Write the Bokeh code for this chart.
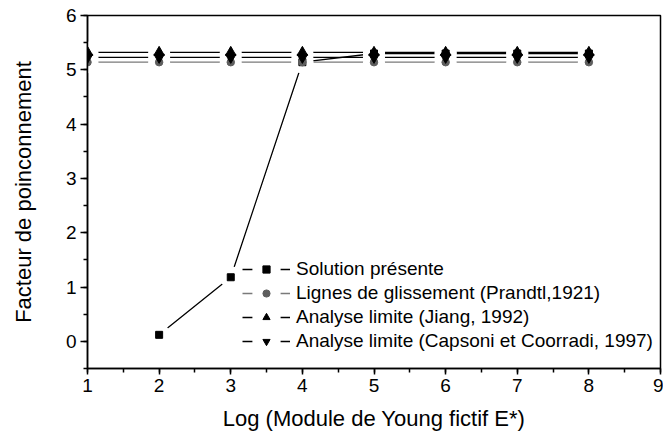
import numpy as np
from bokeh.plotting import figure
from bokeh.models import Range1d, SingleIntervalTicker, Legend, LegendItem
from bokeh.embed import file_html
from bokeh.resources import INLINE

# ---- data ----
x_solution = [2, 3, 4, 5, 6, 7, 8]
y_solution = [0.12, 1.18, 5.14, 5.30, 5.30, 5.30, 5.30]

x_ref = [0, 1, 2, 3, 4, 5, 6, 7, 8]
y_prandtl = [5.14, 5.14, 5.14, 5.14, 5.14, 5.14, 5.14, 5.14, 5.14]
y_jiang = [5.32, 5.32, 5.32, 5.32, 5.32, 5.32, 5.32, 5.32, 5.32]
y_capsoni = [5.23, 5.23, 5.23, 5.23, 5.23, 5.23, 5.23, 5.23, 5.23]

labels = [
    "Solution présente",
    "Lignes de glissement (Prandtl,1921)",
    "Analyse limite (Jiang, 1992)",
    "Analyse limite (Capsoni et Coorradi, 1997)",
]
x_label = "Log (Module de Young fictif E*)"
y_label = "Facteur de poinconnement"

FONT = "Liberation Sans"

p = figure(width=663, height=438, output_backend="svg", toolbar_location=None,
           x_range=Range1d(1, 9), y_range=Range1d(-0.5, 6),
           min_border_left=87, min_border_right=3, min_border_top=15, min_border_bottom=70)
p.grid.visible = False
p.background_fill_color = "white"
p.border_fill_color = "white"
p.outline_line_color = "black"
p.outline_line_width = 1.5

for ax in (p.xaxis[0], p.yaxis[0]):
    ax.ticker = SingleIntervalTicker(interval=1, num_minor_ticks=2)
    ax.axis_line_width = 1.5
    ax.major_tick_line_width = 1.5
    ax.minor_tick_line_width = 1.5
    ax.major_tick_in = 0
    ax.minor_tick_in = 0
    ax.major_label_text_font = FONT
    ax.major_label_text_font_size = "19px"
    ax.major_label_text_color = "black"
    ax.axis_label_text_font = FONT
    ax.axis_label_text_font_size = "22px"
    ax.axis_label_text_font_style = "normal"
    ax.axis_label_text_color = "black"

p.xaxis.axis_label = x_label
p.yaxis.axis_label = y_label
p.xaxis.major_tick_out = 6
p.xaxis.minor_tick_out = 4
p.yaxis.major_tick_out = 7
p.yaxis.minor_tick_out = 4
p.xaxis.major_label_standoff = 4
p.yaxis.major_label_standoff = 4
p.xaxis.axis_label_standoff = 11
p.yaxis.axis_label_standoff = 27

GRAY = "#7a7a7a"
series = [
    (x_solution, y_solution, "square", 7, "black", "black"),
    (x_ref, y_prandtl, "circle", 7.5, "#5e5e5e", GRAY),
    (x_ref, y_jiang, "triangle", 10.5, "black", "black"),
    (x_ref, y_capsoni, "inverted_triangle", 10.5, "black", "black"),
]

# lines
line_rs = []
for xs, ys, mk, sz, mcol, lcol in series:
    line_rs.append(p.line(xs, ys, line_color=lcol, line_width=1.3))
# white halos giving the gaps around the points
for xs, ys, mk, sz, mcol, lcol in series:
    p.scatter(xs, ys, marker="circle", size=22, fill_color="white", line_color=None)
# legend-only halo (no data, only drawn inside the legend)
legend_halo = p.scatter([np.nan], [np.nan], marker="square", size=6,
                        fill_color="white", line_color="white", line_width=21)
# markers
items = []
for (xs, ys, mk, sz, mcol, lcol), lab, lr in zip(series, labels, line_rs):
    r = p.scatter(xs, ys, marker=mk, size=sz, fill_color=mcol, line_color=mcol)
    items.append(LegendItem(label=lab, renderers=[lr, legend_halo, r]))

legend = Legend(items=items, location=(155, 16), orientation="vertical",
                border_line_color=None, background_fill_alpha=0,
                padding=0, margin=0, spacing=2, glyph_width=48, glyph_height=18,
                label_standoff=6, label_text_font=FONT, label_text_font_size="19px",
                label_text_color="black", label_height=22)
p.add_layout(legend, "center")

open("out.html", "w").write(file_html(p, INLINE))
